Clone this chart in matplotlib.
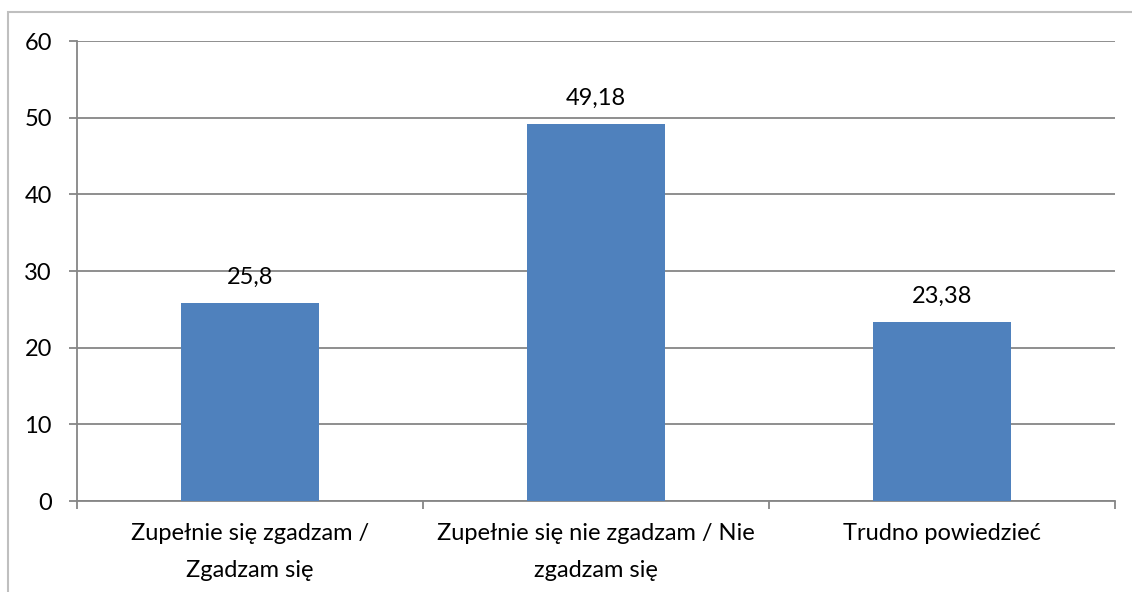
import matplotlib.pyplot as plt
import matplotlib.patches as patches

categories = ["Zupełnie się zgadzam /\nZgadzam się",
              "Zupełnie się nie zgadzam / Nie\nzgadzam się",
              "Trudno powiedzieć"]
values = [25.8, 49.18, 23.38]
value_labels = ["25,8", "49,18", "23,38"]
yticks = [0, 10, 20, 30, 40, 50, 60]

plt.rcParams['font.family'] = ['Lato', 'DejaVu Sans']
W, H = 1132, 592
fig = plt.figure(figsize=(W / 100, H / 100), dpi=100)
ax = fig.add_axes([77 / W, 1 - 501 / H, (1115 - 77) / W, (501 - 41) / H])

grid_col = "#868686"
fs = 17
x = range(len(values))
ax.bar(x, values, width=0.4, color="#4F81BD", zorder=3)
for xi, v, lab in zip(x, values, value_labels):
    ax.annotate(lab, (xi, v), xytext=(0, 15), textcoords="offset pixels",
                ha="center", va="bottom", fontsize=fs, color="black")

ax.set_xlim(-0.5, len(values) - 0.5)
ax.set_ylim(0, 60)
ax.set_yticks(yticks)
ax.set_yticklabels([str(t) for t in yticks], fontsize=fs)
ax.yaxis.grid(True, color=grid_col, linewidth=1.3, zorder=0)
ax.tick_params(axis="y", length=6, width=1.3, color=grid_col, pad=12)

# category labels between boundary ticks
ax.set_xticks([-0.5, 0.5, 1.5, 2.5])
ax.set_xticklabels([])
ax.tick_params(axis="x", length=6, width=1.3, color=grid_col)
for xi, c in zip(x, categories):
    ax.text(xi, -2.9, c, ha="center", va="top", fontsize=fs,
            linespacing=1.95, transform=ax.transData)

for s in ["top", "right"]:
    ax.spines[s].set_visible(False)
for s in ["left", "bottom"]:
    ax.spines[s].set_color(grid_col)
    ax.spines[s].set_linewidth(1.3)

# outer chart border
fig.patches.append(patches.Rectangle((8 / W, -0.1), 1.2, 1 - 12 / H + 0.1,
                                     transform=fig.transFigure, fill=False,
                                     edgecolor="#BFBFBF", linewidth=1.5))

fig.savefig("out.png", dpi=100)
